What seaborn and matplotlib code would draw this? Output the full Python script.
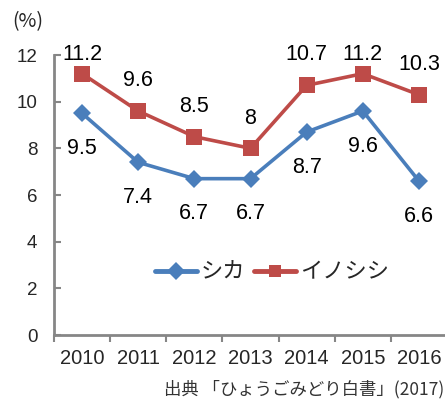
import matplotlib
matplotlib.use("Agg")
import matplotlib.pyplot as plt
import seaborn as sns
import pandas as pd

years = ["2010", "2011", "2012", "2013", "2014", "2015", "2016"]
shika = [9.5, 7.4, 6.7, 6.7, 8.7, 9.6, 6.6]
inoshishi = [11.2, 9.6, 8.5, 8.0, 10.7, 11.2, 10.3]
series_names = ["シカ", "イノシシ"]
y_ticks = [0, 2, 4, 6, 8, 10, 12]
source_text = "出典 「ひょうごみどり白書」(2017)"

sns.set_theme(style="white")
plt.rcParams["font.family"] = ["Liberation Sans", "Noto Sans CJK JP", "DejaVu Sans"]

df = pd.DataFrame({
    "year": years * 2,
    "value": shika + inoshishi,
    "series": [series_names[0]] * len(years) + [series_names[1]] * len(years),
})

blue = "#4a7ebb"
red = "#be4b48"
spine_c = "#868686"

fig = plt.figure(figsize=(4.45, 4.01), dpi=100)
ax = fig.add_axes([54 / 445, 66 / 401, 393 / 445, 280 / 401])

sns.lineplot(
    data=df, x="year", y="value", hue="series", style="series",
    palette={series_names[0]: blue, series_names[1]: red},
    markers={series_names[0]: "D", series_names[1]: "s"},
    dashes=False, markersize=9, linewidth=2.6, markeredgewidth=0,
    ax=ax, legend=True,
)
# larger square marker for the red series
for line in ax.get_lines():
    if line.get_marker() == "s":
        line.set_markersize(11)

ax.set_xlim(-0.5, 6.5)
ax.set_ylim(0, 12)
ax.set_yticks(y_ticks)
ax.set_xlabel("")
ax.set_ylabel("")

ax.set_xticks([i - 0.5 for i in range(len(years))], minor=False)
ax.set_xticklabels([""] * len(years))
ax.set_xticks(range(len(years)), minor=True)
ax.set_xticklabels(years, minor=True, fontsize=14.5)
ax.tick_params(axis="x", which="major", direction="out", length=5, width=1.5,
               color=spine_c, bottom=True)
ax.tick_params(axis="x", which="minor", length=0, pad=10, bottom=True)
ax.tick_params(axis="y", direction="in", length=5, width=1.5, color=spine_c,
               labelsize=13.5, pad=12, left=True)

for side in ["top", "right"]:
    ax.spines[side].set_visible(False)
for side in ["left", "bottom"]:
    ax.spines[side].set_color(spine_c)
    ax.spines[side].set_linewidth(2)
ax.spines["bottom"].set_clip_on(False)

# value labels: red above, blue below
for i, v in enumerate(inoshishi):
    ax.text(i, min(v + 1.3, 12.0), f"{v:g}", ha="center", va="center",
            fontsize=15.5, color="black", clip_on=False)
for i, v in enumerate(shika):
    ax.text(i, v - 1.5, f"{v:g}", ha="center", va="center",
            fontsize=15.5, color="black", clip_on=False)

leg = ax.legend(loc="center", bbox_to_anchor=((272 - 54) / 393, (401 - 272 - 66) / 280),
                ncol=2, frameon=False, handlelength=1.9,
                handletextpad=0.15, columnspacing=0.4,
                prop={"family": ["Noto Sans CJK JP"], "size": 16})
for h in leg.legend_handles:
    h.set_linewidth(3.5)
    h.set_markersize(9)

fig.text(12 / 445, 1 - 22 / 401, "(%)", ha="left", va="center", fontsize=14,
         family=["Noto Sans CJK JP"])
fig.text(444 / 445, 1 - 389 / 401, source_text, ha="right", va="center",
         fontsize=12.5, color="#333333", family=["Noto Sans CJK JP"])

fig.savefig("out.png", dpi=100)
